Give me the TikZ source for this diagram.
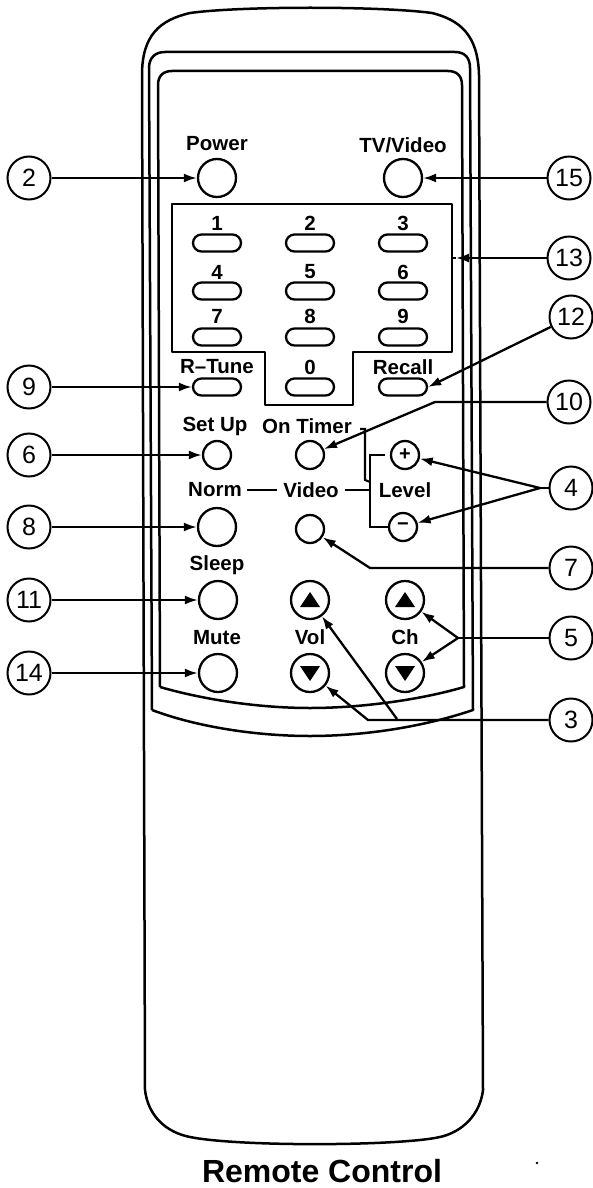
\documentclass[tikz,border=0pt]{standalone}
\usepackage{fontspec}
\setmainfont{Liberation Sans}
\usetikzlibrary{arrows,arrows.meta}
\usetikzlibrary{positioning}
\usetikzlibrary{shapes.misc}
\tikzset{
	outline/.style={line width=2.5pt,line join=round},
	thinline/.style={line width=2.1pt},
	callout/.style={circle,draw,line width=2pt,minimum size=43pt,inner sep=0pt,font=\fontsize{25}{25}\selectfont},
	bigbutton/.style={circle,draw,line width=2.3pt,minimum size=38pt,inner sep=0pt},
	smallbutton/.style={circle,draw,line width=2.3pt,minimum size=28pt,inner sep=0pt},
	pill/.style={rounded rectangle,draw,line width=2.3pt,minimum width=48pt,minimum height=17pt,inner sep=0pt},
	caption/.style={inner sep=0pt,font=\fontsize{20.5}{20.5}\selectfont\bfseries},
	pointer/.style={line width=2.3pt,-{Latex[length=13pt,width=9pt]}},
}
\begin{document}
\begin{tikzpicture}[x=1pt,y=-1pt]
	\useasboundingbox (0,0) rectangle (592,1188);
	% body
	\draw[outline] (145,1090) -- (142,75) .. controls (142,35) and (160,20) .. (190,13) .. controls (240,6) and (380,6) .. (432,13) .. controls (460,20) and (478,35) .. (479,75) -- (483,1090) .. controls (480,1115) and (462,1132) .. (440,1137) .. controls (400,1146) and (240,1147) .. (190,1137) .. controls (165,1132) and (148,1115) .. (145,1090);
	\draw[outline] (152,710) -- (149,68) .. controls (149,58) and (155,52) .. (165,52) -- (455,52) .. controls (465,52) and (470,58) .. (470,68) -- (473,710) .. controls (420,728) and (360,736) .. (310,736) .. controls (260,736) and (200,728) .. (152,710);
	\draw[outline] (160,687) -- (158,85) .. controls (158,76) and (163,71) .. (172,71) -- (448,71) .. controls (457,71) and (462,76) .. (462,85) -- (464,687) .. controls (420,700) and (360,708) .. (310,708) .. controls (260,708) and (205,700) .. (160,687);
	% keypad panel
	\draw[outline] (172,204) -- (452,204) -- (452,352) -- (353,352) -- (353,405) -- (265,405) -- (265,352) -- (172,352) -- cycle;
	% buttons
	\node[bigbutton] (power) at (217,178) {};
	\node[bigbutton] (tvvideo) at (403,178) {};
	\node[pill] (k1) at (217,243) {};
	\node[pill] (k2) at (310,243) {};
	\node[pill] (k3) at (403,243) {};
	\node[pill] (k4) at (217,291) {};
	\node[pill] (k5) at (310,291) {};
	\node[pill] (k6) at (403,291) {};
	\node[pill] (k7) at (217,337) {};
	\node[pill] (k8) at (310,337) {};
	\node[pill] (k9) at (403,337) {};
	\node[pill] (rtune) at (217,387) {};
	\node[pill] (k0) at (310,387) {};
	\node[pill] (recall) at (403,387) {};
	\node[smallbutton] (setup) at (217,455) {};
	\node[smallbutton] (ontimer) at (310,455) {};
	\node[smallbutton,font=\fontsize{20}{20}\selectfont\bfseries] (levelup) at (405,455) {+};
	\node[smallbutton,font=\fontsize{20}{20}\selectfont\bfseries] (leveldown) at (403,527) {−};
	\node[bigbutton] (norm) at (217,527) {};
	\node[smallbutton] (video) at (310,529) {};
	\node[bigbutton] (sleep) at (218,600) {};
	\node[bigbutton] (volup) at (310,600) {};
	\node[bigbutton] (chup) at (405,600) {};
	\node[bigbutton] (mute) at (218,673) {};
	\node[bigbutton] (voldown) at (310,673) {};
	\node[bigbutton] (chdown) at (405,673) {};
	\fill (volup) ++(-10,7) -- ++(20,0) -- ++(-10,-15) -- cycle;
	\fill (chup) ++(-10,7) -- ++(20,0) -- ++(-10,-15) -- cycle;
	\fill (voldown) ++(-10,-7) -- ++(20,0) -- ++(-10,15) -- cycle;
	\fill (chdown) ++(-10,-7) -- ++(20,0) -- ++(-10,15) -- cycle;
	% labels
	\node[caption] (lpower) at (217,144) {Power};
	\node[caption] (ltvvideo) at (403,145) {TV/Video};
	\node[caption] (d1) at (217,223) {1};
	\node[caption] (d2) at (310,223) {2};
	\node[caption] (d3) at (403,223) {3};
	\node[caption] (d4) at (217,272) {4};
	\node[caption] (d5) at (310,272) {5};
	\node[caption] (d6) at (403,272) {6};
	\node[caption] (d7) at (217,316) {7};
	\node[caption] (d8) at (310,316) {8};
	\node[caption] (d9) at (403,316) {9};
	\node[caption] (d0) at (310,367) {0};
	\node[caption] (lrtune) at (217,367) {R–Tune};
	\node[caption] (lrecall) at (403,367) {Recall};
	\node[caption] (lsetup) at (215,426) {Set Up};
	\node[caption] (lontimer) at (307,426) {On Timer};
	\node[caption] (lnorm) at (215,490) {Norm};
	\node[caption] (lvideo) at (311,490) {Video};
	\node[caption] (llevel) at (405,490) {Level};
	\node[caption] (lsleep) at (217,565) {Sleep};
	\node[caption] (lmute) at (217,638) {Mute};
	\node[caption] (lvol) at (310,637) {Vol};
	\node[caption] (lch) at (405,637) {Ch};
	\node[inner sep=0pt,font=\fontsize{32}{32}\selectfont\bfseries] (title) at (322,1171) {Remote Control};
	% level bracket
	\draw[thinline] (lnorm) ++(32,0) coordinate (n1) -- ++(30,0) coordinate (n2);
	\draw[thinline] (lvideo) ++(34,0) coordinate (v1) -- ++(26,0) coordinate (b0);
	\draw[thinline] (385,455) -- (370,455) -- (370,527) -- (388,527);
	\draw[thinline] (360,429) -- (365,429) -- (365,480) -- (370,482);
	% callouts
	\node[callout] (c2) at (29,178) {2};
	\node[callout] (c15) at (569,178) {15};
	\node[callout] (c13) at (569,258) {13};
	\node[callout] (c12) at (571,317) {12};
	\node[callout] (c9) at (29,387) {9};
	\node[callout] (c10) at (569,402) {10};
	\node[callout] (c6) at (29,455) {6};
	\node[callout] (c4) at (571,488) {4};
	\node[callout] (c8) at (29,527) {8};
	\node[callout] (c7) at (571,568) {7};
	\node[callout] (c11) at (29,600) {11};
	\node[callout] (c5) at (571,638) {5};
	\node[callout] (c14) at (29,673) {14};
	\node[callout] (c3) at (571,720) {3};
	% arrows
	\draw[pointer] (c2) -- (power);
	\draw[pointer] (c15) -- (tvvideo);
	\draw[pointer] (c9) -- (rtune);
	\draw[pointer] (c6) -- (setup);
	\draw[pointer] (c8) -- (norm);
	\draw[pointer] (c11) -- (sleep);
	\draw[pointer] (c14) -- (mute);
	\draw[pointer] (c12) -- (recall.east);
	\coordinate (a13) at (456,258);
	\draw[pointer] (c13) -- (a13);
	\draw[line width=2.3pt] (a13) -- (452,258);
	\coordinate (b10) at (435,402);
	\draw[pointer] (c10) -- (b10) -- (ontimer);
	\coordinate (j4) at (540,488);
	\draw[line width=2.3pt] (c4) -- (j4);
	\draw[pointer] (j4) -- (levelup);
	\draw[pointer] (j4) -- (leveldown);
	\coordinate (b7) at (370,568);
	\draw[pointer] (c7) -- (b7) -- (video);
	\coordinate (j5) at (458,638);
	\draw[line width=2.3pt] (c5) -- (j5);
	\draw[pointer] (j5) -- (chup);
	\draw[pointer] (j5) -- (chdown);
	\coordinate (b3) at (368,720);
	\coordinate (j3) at (397,719);
	\draw[pointer] (c3) -- (b3) -- (voldown);
	\draw[pointer] (j3) -- (volup);
	% speck
	\fill (537,1163) circle (1.3pt);
\end{tikzpicture}
\end{document}
